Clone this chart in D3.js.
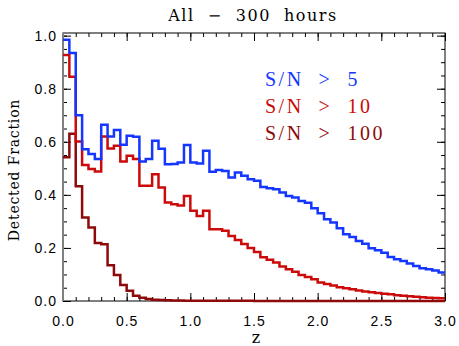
<!DOCTYPE html>
<html>
<head>
<meta charset="utf-8">
<script src="https://cdn.jsdelivr.net/npm/d3@7"></script>
<style>
  body { margin: 0; background: #fff; }
  .tick text { font-family: 'Liberation Sans', Arial, sans-serif; font-size: 14px; letter-spacing: 1px; fill: #000; }
  .tick line { stroke: #000; }
  .serif { font-family: 'DejaVu Serif', serif; }
</style>
</head>
<body>
<svg id="chart" width="459" height="346"></svg>
<script>
// lower edge of each redshift bin (width 0.05)
const zBins = [
  0.00, 0.05, 0.10, 0.15, 0.20, 0.25, 0.30, 0.35, 0.40, 0.45,
  0.50, 0.55, 0.60, 0.65, 0.70, 0.75, 0.80, 0.85, 0.90, 0.95,
  1.00, 1.05, 1.10, 1.15, 1.20, 1.25, 1.30, 1.35, 1.40, 1.45,
  1.50, 1.55, 1.60, 1.65, 1.70, 1.75, 1.80, 1.85, 1.90, 1.95,
  2.00, 2.05, 2.10, 2.15, 2.20, 2.25, 2.30, 2.35, 2.40, 2.45,
  2.50, 2.55, 2.60, 2.65, 2.70, 2.75, 2.80, 2.85, 2.90, 2.95
];
const binWidth = 0.05;

const snr5 = [
  0.985, 0.935, 0.700, 0.572, 0.554, 0.535, 0.664, 0.620, 0.644, 0.589,
  0.623, 0.619, 0.526, 0.535, 0.604, 0.574, 0.515, 0.516, 0.522, 0.588,
  0.522, 0.518, 0.566, 0.487, 0.494, 0.490, 0.465, 0.484, 0.472, 0.459,
  0.453, 0.430, 0.425, 0.421, 0.409, 0.396, 0.390, 0.377, 0.370, 0.350,
  0.331, 0.308, 0.296, 0.274, 0.252, 0.241, 0.226, 0.216, 0.199, 0.191,
  0.182, 0.166, 0.157, 0.151, 0.141, 0.132, 0.123, 0.120, 0.115, 0.107
];
const snr10 = [
  0.927, 0.845, 0.601, 0.513, 0.497, 0.488, 0.620, 0.575, 0.585, 0.526,
  0.547, 0.535, 0.434, 0.434, 0.478, 0.428, 0.371, 0.365, 0.360, 0.396,
  0.340, 0.320, 0.340, 0.270, 0.270, 0.265, 0.245, 0.230, 0.215, 0.200,
  0.185, 0.165, 0.155, 0.145, 0.130, 0.120, 0.110, 0.098, 0.090, 0.082,
  0.070, 0.064, 0.058, 0.052, 0.048, 0.044, 0.040, 0.036, 0.033, 0.030,
  0.027, 0.025, 0.022, 0.020, 0.018, 0.016, 0.014, 0.012, 0.011, 0.010
];
const snr100 = [
  0.542, 0.630, 0.432, 0.315, 0.277, 0.219, 0.214, 0.135, 0.098, 0.060,
  0.039, 0.020, 0.012, 0.008, 0.005, 0.004, 0.003, 0.002, 0.002, 0.001,
  0.001, 0.001, 0.001, 0.001, 0.001, 0.001, 0.001, 0.001, 0.001, 0.001,
  0, 0, 0, 0, 0, 0, 0, 0, 0, 0,
  0, 0, 0, 0, 0, 0, 0, 0, 0, 0,
  0, 0, 0, 0, 0, 0, 0, 0, 0, 0
];

const seriesNames = ['S/N > 5', 'S/N > 10', 'S/N > 100'];
const seriesColors = ['#1436ff', '#cc0a0a', '#8e0a0a'];

const xMajor = [0, 0.5, 1.0, 1.5, 2.0, 2.5, 3.0];
const yMajor = [0, 0.2, 0.4, 0.6, 0.8, 1.0];

const plotLeft = 63, plotRight = 445, plotTop = 33, plotBottom = 301;

const svg = d3.select('#chart');

const x = d3.scaleLinear().domain([0, 3]).range([plotLeft, plotRight]);
const y = d3.scaleLinear().domain([0, 1.01]).range([plotBottom, plotTop]);

/**
 * Adds major and minor ticks on all four sides
 */
function addAxes() {
  const xMinor = d3.range(0, 3.0001, 0.1);
  const yMinor = d3.range(0, 1.0001, 0.05);
  const fmt = d3.format('.1f');
  const noDomain = (g) => g.select('.domain').remove();

  // bottom, with labels
  svg.append('g')
    .attr('transform', `translate(0,${plotBottom})`)
    .call(d3.axisBottom(x).tickValues(xMinor).tickSizeInner(-4).tickSizeOuter(0).tickFormat(''))
    .call(noDomain);
  svg.append('g')
    .attr('transform', `translate(0,${plotBottom})`)
    .call(d3.axisBottom(x).tickValues(xMajor).tickSizeInner(-8).tickSizeOuter(0).tickPadding(15).tickFormat(fmt))
    .call(noDomain);

  // top
  svg.append('g')
    .attr('transform', `translate(0,${plotTop})`)
    .call(d3.axisTop(x).tickValues(xMinor).tickSizeInner(-4).tickSizeOuter(0).tickFormat(''))
    .call(noDomain);
  svg.append('g')
    .attr('transform', `translate(0,${plotTop})`)
    .call(d3.axisTop(x).tickValues(xMajor).tickSizeInner(-8).tickSizeOuter(0).tickFormat(''))
    .call(noDomain);

  // left, with labels
  svg.append('g')
    .attr('transform', `translate(${plotLeft},0)`)
    .call(d3.axisLeft(y).tickValues(yMinor).tickSizeInner(-4).tickSizeOuter(0).tickFormat(''))
    .call(noDomain);
  svg.append('g')
    .attr('transform', `translate(${plotLeft},0)`)
    .call(d3.axisLeft(y).tickValues(yMajor).tickSizeInner(-8).tickSizeOuter(0).tickPadding(6).tickFormat(fmt))
    .call(noDomain);

  // right
  svg.append('g')
    .attr('transform', `translate(${plotRight},0)`)
    .call(d3.axisRight(y).tickValues(yMinor).tickSizeInner(-4).tickSizeOuter(0).tickFormat(''))
    .call(noDomain);
  svg.append('g')
    .attr('transform', `translate(${plotRight},0)`)
    .call(d3.axisRight(y).tickValues(yMajor).tickSizeInner(-8).tickSizeOuter(0).tickFormat(''))
    .call(noDomain);

  // frame
  svg.append('rect')
    .attr('x', plotLeft).attr('y', plotTop)
    .attr('width', plotRight - plotLeft).attr('height', plotBottom - plotTop)
    .attr('fill', 'none').attr('stroke', '#000').attr('stroke-width', 1);
  svg.append('line')
    .attr('x1', plotLeft).attr('x2', plotLeft).attr('y1', plotTop).attr('y2', plotBottom)
    .attr('stroke', '#808080').attr('stroke-width', 2);
}

/**
 * Draws one histogram as a step line
 * @param {number[]} values The fraction in each bin
 * @param {string} color The line colour
 */
function drawHist(values, color) {
  const pts = values.map((v, i) => [zBins[i], v]);
  pts.push([zBins[zBins.length - 1] + binWidth, values[values.length - 1]]);
  const line = d3.line()
    .x((d) => x(d[0]))
    .y((d) => y(d[1]))
    .curve(d3.curveStepAfter);
  svg.append('path')
    .attr('d', line(pts))
    .attr('fill', 'none')
    .attr('stroke', color)
    .attr('stroke-width', 2.5)
    .attr('stroke-linejoin', 'miter');
}

/**
 * Adds the title, axis titles and the coloured legend
 */
function addLabels() {
  svg.append('text')
    .attr('class', 'serif')
    .attr('x', 253).attr('y', 21)
    .attr('text-anchor', 'middle')
    .attr('font-size', 16)
    .attr('letter-spacing', 1.5)
    .style('white-space', 'pre')
    .text('All  \u2212  300  hours');

  svg.append('text')
    .attr('class', 'serif')
    .attr('x', 256).attr('y', 343)
    .attr('text-anchor', 'middle')
    .attr('font-size', 16)
    .text('z');

  svg.append('text')
    .attr('class', 'serif')
    .attr('transform', 'translate(19,170) rotate(-90)')
    .attr('text-anchor', 'middle')
    .attr('font-size', 14)
    .attr('letter-spacing', 0.8)
    .text('Detected Fraction');

  seriesNames.forEach((name, i) => {
    svg.append('text')
      .attr('x', 265).attr('y', 86 + i * 27)
      .attr('font-family', "'Liberation Serif', serif")
      .attr('font-size', 20)
      .attr('letter-spacing', 2.5)
      .style('white-space', 'pre')
      .attr('fill', seriesColors[i])
      .text(name.replace(/ /g, '  '));
  });
}

addAxes();
drawHist(snr100, seriesColors[2]);
drawHist(snr10, seriesColors[1]);
drawHist(snr5, seriesColors[0]);
addLabels();
</script>
</body>
</html>
